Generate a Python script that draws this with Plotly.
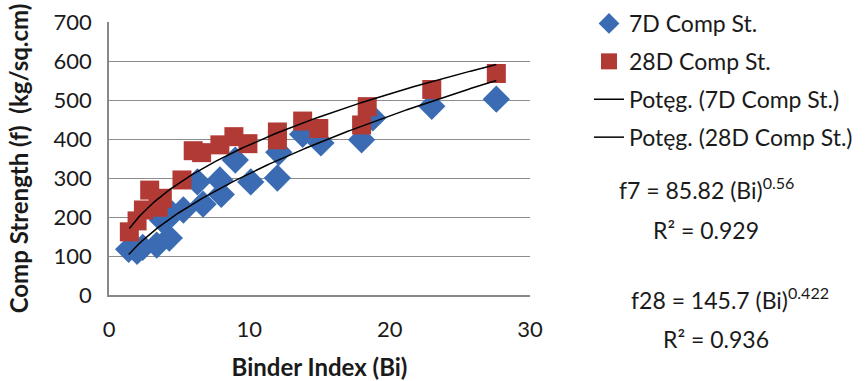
import numpy as np
import plotly.graph_objects as go

# Binder index vs. compressive strength (kg/sq.cm)
bi_7d = [1.4, 2.0, 2.4, 3.4, 4.3, 3.8, 4.5, 5.3, 6.7, 6.3, 8.0, 7.9, 9.0, 10.1,
         12.0, 12.1, 13.8, 15.1, 18.0, 18.8, 23.0, 27.6]
fc_7d = [117, 112, 122, 128, 146, 192, 208, 218, 233, 290, 258, 295, 346, 290,
         300, 366, 412, 390, 398, 454, 484, 502]

bi_28d = [1.45, 2.0, 2.45, 2.9, 3.5, 3.8, 5.2, 6.0, 6.6, 7.9, 8.9, 9.9, 12.0,
          12.0, 13.8, 14.95, 18.0, 18.4, 23.0, 27.6]
fc_28d = [162, 190, 218, 269, 225, 248, 295, 370, 365, 385, 406, 388, 418,
          398, 446, 427, 436, 483, 527, 568]

# Power-law fits: f = a * Bi^b, with R²
fit_7d = (85.82, 0.56, 0.929)
fit_28d = (145.7, 0.422, 0.936)

x_ticks = [0, 10, 20, 30]
y_ticks = [0, 100, 200, 300, 400, 500, 600, 700]

FONT = "Lato, 'Open Sans', sans-serif"
INK = "#1a1a1a"
BLUE = "#3B6CB3"
RED = "#B23A35"

W, H = 868, 381
PL, PR, PT, PB = 109, 530, 22, 295   # plot-area edges in pixels

fig = go.Figure()

fig.add_trace(go.Scatter(
    x=bi_7d, y=fc_7d, mode="markers", name="7D Comp St.",
    legendgroup="a",
    marker=dict(symbol="diamond", size=21, color=BLUE, line=dict(width=0)),
))
fig.add_trace(go.Scatter(
    x=bi_28d, y=fc_28d, mode="markers", name="28D Comp St.",
    legendgroup="b",
    marker=dict(symbol="square", size=19, color=RED, line=dict(width=0)),
))


def power_curve(xs, fit):
    a, b, _ = fit
    xx = np.linspace(min(xs), max(xs), 200)
    return xx, a * xx ** b


x7, y7 = power_curve(bi_7d, fit_7d)
x28, y28 = power_curve(bi_28d, fit_28d)

fig.add_trace(go.Scatter(
    x=x7, y=y7, mode="lines", name="Potęg. (7D Comp St.)",
    legendgroup="c", line=dict(color="black", width=1.5),
))
fig.add_trace(go.Scatter(
    x=x28, y=y28, mode="lines", name="Potęg. (28D Comp St.)",
    legendgroup="d", line=dict(color="black", width=1.5),
))

# Fit equations, one annotation per line
eq_lines = [
    (f"f7 = {fit_7d[0]} (Bi)<sup>{fit_7d[1]}</sup>", 706, 188),
    (f"R² = {fit_7d[2]}", 706, 230),
    (f"f28 = {fit_28d[0]} (Bi)<sup>{fit_28d[1]}</sup>", 730, 298),
    (f"R² = {fit_28d[2]}", 716, 339),
]
for txt, px, py in eq_lines:
    fig.add_annotation(
        text=txt, xref="paper", yref="paper",
        x=(px - PL) / (PR - PL), y=1 - (py - PT) / (PB - PT),
        xanchor="center", yanchor="middle", showarrow=False, align="center",
        font=dict(family=FONT, size=23, color=INK),
    )

fig.update_layout(
    width=W, height=H,
    margin=dict(l=PL, r=W - PR, t=PT, b=H - PB),
    paper_bgcolor="white", plot_bgcolor="white",
    font=dict(family=FONT, size=23, color=INK),
    showlegend=True,
    legend=dict(
        xref="container", yref="container",
        x=589 / W, y=1 - 2 / H, xanchor="left", yanchor="top",
        traceorder="grouped", tracegroupgap=5,
        font=dict(family=FONT, size=23, color=INK),
        bgcolor="rgba(0,0,0,0)",
    ),
    xaxis=dict(
        range=[0, 30], tickvals=x_ticks, showgrid=False, zeroline=False,
        showline=True, linecolor="#888888", linewidth=1.5, ticks="",
        ticklabelstandoff=14, automargin=False,
        title=dict(text="<b>Binder Index (Bi)</b>", standoff=19,
                   font=dict(family=FONT, size=24, color=INK)),
        tickfont=dict(family=FONT, size=22, color=INK),
    ),
    yaxis=dict(
        range=[0, 700], tickvals=y_ticks, showgrid=True, gridcolor="#8c8c8c",
        gridwidth=1.3, zeroline=False, showline=True, linecolor="#888888",
        linewidth=1.5, ticks="", ticklabelstandoff=11, automargin=False,
        title=dict(text="<b>Comp Strength (f)  (kg/sq.cm)</b>", standoff=18,
                   font=dict(family=FONT, size=24, color=INK)),
        tickfont=dict(family=FONT, size=22, color=INK),
    ),
)

fig.write_html("out.html")
